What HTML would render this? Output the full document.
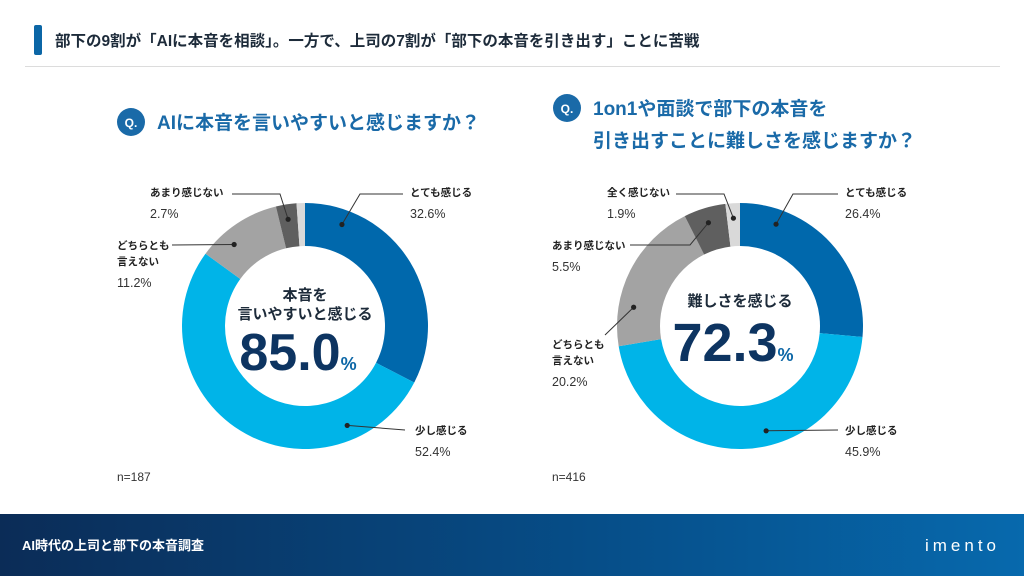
<!DOCTYPE html>
<html><head><meta charset="utf-8">
<style>
body{margin:0;width:1024px;height:576px;overflow:hidden;background:#fff;font-family:"Liberation Sans","Noto Sans CJK JP",sans-serif;}
svg text{font-family:"Liberation Sans","Noto Sans CJK JP",sans-serif;}
</style></head>
<body>
<svg id="c" width="1024" height="576" viewBox="0 0 1024 576">
<defs><linearGradient id="fg" x1="0" x2="1" y1="0" y2="0"><stop offset="0" stop-color="#0b2c57"/><stop offset="0.6" stop-color="#064f8a"/><stop offset="1" stop-color="#0769ad"/></linearGradient></defs>
<rect x="34" y="25" width="8" height="30" rx="2" fill="#0b66a6"/>
<text x="55" y="46" font-size="15.5" font-weight="bold" fill="#1d2b3a">部下の9割が「AIに本音を相談」。一方で、上司の7割が「部下の本音を引き出す」ことに苦戦</text>
<line x1="25" y1="66.5" x2="1000" y2="66.5" stroke="#dcdcdc" stroke-width="1"/>
<circle cx="131" cy="122" r="14" fill="#1a6aa8"/>
<text x="131" y="127" font-size="12" fill="#fff" text-anchor="middle" font-weight="bold">Q.</text>
<text x="157" y="129" font-size="19" font-weight="bold" fill="#1a6aa8">AIに本音を言いやすいと感じますか？</text>
<circle cx="567" cy="108" r="14" fill="#1a6aa8"/>
<text x="567" y="113" font-size="12" fill="#fff" text-anchor="middle" font-weight="bold">Q.</text>
<text x="593" y="115" font-size="19" font-weight="bold" fill="#1a6aa8">1on1や面談で部下の本音を</text>
<text x="593" y="147" font-size="19" font-weight="bold" fill="#1a6aa8">引き出すことに難しさを感じますか？</text>
<g id="left"></g><g id="right"></g>
<text x="305" y="300" font-size="15" font-weight="bold" fill="#1d2b3a" text-anchor="middle">本音を</text>
<text x="305" y="319" font-size="15" font-weight="bold" fill="#1d2b3a" text-anchor="middle">言いやすいと感じる</text>
<text x="298" y="370" font-size="52" font-weight="bold" fill="#0d3461" text-anchor="middle">85.0<tspan font-size="18" fill="#0b66a6">%</tspan></text>
<text x="740" y="306" font-size="15" font-weight="bold" fill="#1d2b3a" text-anchor="middle">難しさを感じる</text>
<text x="733" y="361" font-size="54" font-weight="bold" fill="#0d3461" text-anchor="middle">72.3<tspan font-size="18" fill="#0b66a6">%</tspan></text>
<text x="117" y="481" font-size="12" fill="#333">n=187</text>
<text x="552" y="481" font-size="12" fill="#333">n=416</text>
<rect x="0" y="514" width="1024" height="62" fill="url(#fg)"/>
<text x="22" y="550" font-size="13" font-weight="bold" fill="#fff">AI時代の上司と部下の本音調査</text>
<text x="1000" y="551" font-size="17" fill="#fff" text-anchor="end" letter-spacing="4">imento</text>
</svg>
<script>
const categories=["とても感じる","少し感じる","どちらとも言えない","あまり感じない","全く感じない"];
const leftValues=[32.6,52.4,11.2,2.7,1.1];
const rightValues=[26.4,45.9,20.2,5.5,1.9];
const leftLabels=["32.6%","52.4%","11.2%","2.7%",""];
const rightLabels=["26.4%","45.9%","20.2%","5.5%","1.9%"];
const colors=["#0068ac","#00b4e8","#a3a3a3","#5f5f5f","#d9d9d9"];
const NS="http://www.w3.org/2000/svg";
function mk(t,a,p){const e=document.createElementNS(NS,t);for(const k in a)e.setAttribute(k,a[k]);p.appendChild(e);return e;}
function pt(cx,cy,r,a){return [cx+r*Math.sin(a),cy-r*Math.cos(a)];}
const D=Math.PI/180;
function donut(g,cx,cy,vals,labels,layout,side){
  const R=123,r=80,tot=vals.reduce((s,v)=>s+v,0);let a0=0;
  vals.forEach((v,i)=>{
    const a1=a0+v/tot*2*Math.PI;const lg=a1-a0>Math.PI?1:0;
    const p1=pt(cx,cy,R,a0),p2=pt(cx,cy,R,a1),p3=pt(cx,cy,r,a1),p4=pt(cx,cy,r,a0);
    const s=mk('path',{d:`M${p1}A${R},${R} 0 ${lg} 1 ${p2}L${p3}A${r},${r} 0 ${lg} 0 ${p4}Z`,fill:colors[i]},g);
    
    
    const L=layout[i];
    if(L){
      let ang=L.ang*D;const m=(a1-a0)*0.15;
      ang=Math.min(Math.max(ang,a0+m),a1-m);
      const d=pt(cx,cy,108,ang);
      const ln=mk('polyline',{points:[d].concat(L.pts).map(p=>p.join(',')).join(' '),fill:'none',stroke:'#333','stroke-width':1},g);
      
      
      const dot=mk('circle',{cx:d[0],cy:d[1],r:2.6,fill:'#222'},g);
      
      
      L.name.forEach((n,j)=>{const t=mk('text',{x:L.tx,y:L.ty+j*16,'font-size':10.5,'font-weight':'bold',fill:'#222'},g);t.textContent=n;
        
        });
      const pv=mk('text',{x:L.tx,y:L.ty+L.name.length*16+6,'font-size':12.5,fill:'#333'},g);pv.textContent=labels[i];
      
      
    }
    a0=a1;
  });
}
donut(document.getElementById('left'),305,326,leftValues,leftLabels,[
 {ang:20,pts:[[360,194],[403,194]],tx:410,ty:196,name:["とても感じる"]},
 {ang:157,pts:[[405,430]],tx:415,ty:434,name:["少し感じる"]},
 {ang:319,pts:[[172,245]],tx:117,ty:249,name:["どちらとも","言えない"]},
 {ang:351,pts:[[280,194],[232,194]],tx:150,ty:196,name:["あまり感じない"]},
 null],'left');
donut(document.getElementById('right'),740,326,rightValues,rightLabels,[
 {ang:19.5,pts:[[793,194],[838,194]],tx:845,ty:196,name:["とても感じる"]},
 {ang:166,pts:[[838,430]],tx:845,ty:434,name:["少し感じる"]},
 {ang:280,pts:[[605,335]],tx:552,ty:348,name:["どちらとも","言えない"]},
 {ang:343,pts:[[690,245],[630,245]],tx:552,ty:249,name:["あまり感じない"]},
 {ang:356.5,pts:[[724,194],[676,194]],tx:607,ty:196,name:["全く感じない"]}],'right');
</script>
</body></html>
